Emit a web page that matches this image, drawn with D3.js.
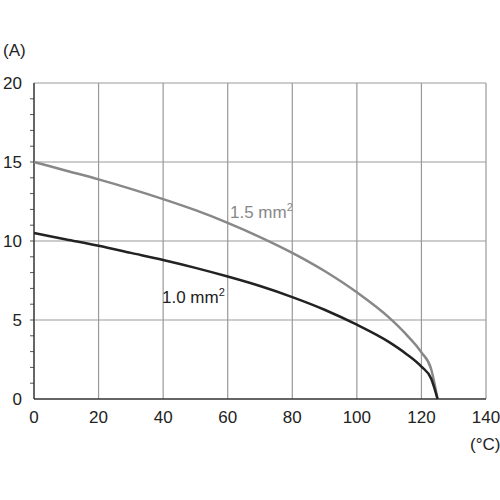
<!DOCTYPE html>
<html><head><meta charset="utf-8">
<script src="https://cdn.jsdelivr.net/npm/d3@7"></script>
<style>body{margin:0;background:#fff}text{font-family:"Liberation Sans Narrow","Liberation Sans",sans-serif;font-size:17px;fill:#222}</style>
</head><body><svg id="c" width="500" height="500"></svg>
<script>
// temperature (°C) / current (A)
var temps = [0,10,20,30,40,50,60,70,80,90,100,110,115,120,123,125];
var amps15 = [15,14.45,13.9,13.3,12.65,11.95,11.15,10.25,9.25,8.1,6.75,5.15,4.15,2.95,1.9,0];
var amps10 = [10.5,10.1,9.7,9.25,8.8,8.3,7.75,7.15,6.45,5.65,4.7,3.6,2.9,2.05,1.3,0];
var xTicks = [0,20,40,60,80,100,120,140];
var yTicks = [0,5,10,15,20];

var svg = d3.select("#c");
var x = d3.scaleLinear().domain([0,140]).range([34,486]);
var y = d3.scaleLinear().domain([0,20]).range([399,83]);

svg.append("g").selectAll("line").data(xTicks.slice(1)).enter().append("line")
  .attr("x1",d=>x(d)).attr("x2",d=>x(d)).attr("y1",y(0)).attr("y2",y(20))
  .attr("stroke","#999").attr("stroke-width",1.2);
svg.append("g").selectAll("line").data(yTicks.slice(1)).enter().append("line")
  .attr("x1",x(0)).attr("x2",x(140)).attr("y1",d=>y(d)).attr("y2",d=>y(d))
  .attr("stroke","#999").attr("stroke-width",1.2);
// minor ticks on y axis
svg.append("g").selectAll("line").data(d3.range(1,20)).enter().append("line")
  .attr("x1",x(0)-4).attr("x2",x(0)).attr("y1",d=>y(d)).attr("y2",d=>y(d))
  .attr("stroke","#555");

svg.append("line").attr("x1",x(0)).attr("x2",x(0)).attr("y1",y(0)).attr("y2",y(20)).attr("stroke","#333").attr("stroke-width",1.5);
svg.append("line").attr("x1",x(0)).attr("x2",x(140)).attr("y1",y(0)).attr("y2",y(0)).attr("stroke","#333").attr("stroke-width",1.5);

svg.append("g").selectAll("text").data(xTicks).enter().append("text")
  .attr("x",d=>x(d)).attr("y",423).attr("text-anchor","middle").text(d=>d);
svg.append("g").selectAll("text").data(yTicks).enter().append("text")
  .attr("x",22).attr("y",d=>y(d)+6).attr("text-anchor","end").text(d=>d);
svg.append("text").attr("x",3).attr("y",56).text("(A)");
svg.append("text").attr("x",470).attr("y",450).text("(°C)");

var line = d3.line().x((d,i)=>x(temps[i])).y(d=>y(d)).curve(d3.curveMonotoneX);
svg.append("path").attr("d",line(amps15)).attr("fill","none").attr("stroke","#888").attr("stroke-width",2.5);
svg.append("path").attr("d",line(amps10)).attr("fill","none").attr("stroke","#222").attr("stroke-width",2.5);

var t1 = svg.append("text").attr("x",230).attr("y",218).style("fill","#888").text("1.5 mm");
t1.append("tspan").attr("dy",-7).style("font-size","11px").text("2");
var t2 = svg.append("text").attr("x",162).attr("y",303).text("1.0 mm");
t2.append("tspan").attr("dy",-7).style("font-size","11px").text("2");
</script></body></html>
